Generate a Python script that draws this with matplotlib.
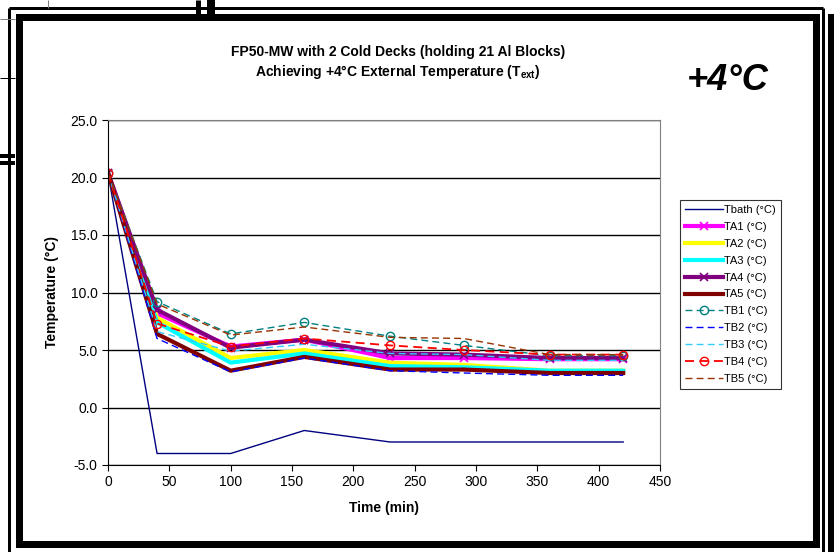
import matplotlib.pyplot as plt
from matplotlib.patches import Rectangle
from matplotlib.lines import Line2D
import numpy as np

plt.rcParams['font.family'] = ['Liberation Sans', 'DejaVu Sans']
plt.rcParams['mathtext.default'] = 'regular'

# data
t = [0, 40, 100, 160, 230, 290, 360, 420]
tbath = [20.4, -4.0, -4.0, -2.0, -3.0, -3.0, -3.0, -3.0]
ta1 = [20.4, 8.2, 5.3, 5.9, 4.3, 4.3, 4.2, 4.2]
ta2 = [20.4, 7.8, 4.3, 5.0, 3.9, 3.7, 3.2, 3.2]
ta3 = [20.4, 7.4, 3.9, 4.7, 3.6, 3.5, 3.2, 3.2]
ta4 = [20.4, 8.5, 5.2, 5.9, 4.7, 4.6, 4.3, 4.3]
ta5 = [20.4, 6.4, 3.2, 4.4, 3.3, 3.3, 3.0, 3.0]
tb1 = [20.4, 9.2, 6.4, 7.4, 6.2, 5.4, 4.5, 4.5]
tb2 = [20.4, 6.0, 3.1, 4.3, 3.2, 3.0, 2.8, 2.8]
tb3 = [20.4, 6.6, 4.9, 5.5, 4.7, 4.6, 4.1, 4.1]
tb4 = [20.4, 7.3, 5.3, 6.0, 5.4, 5.0, 4.6, 4.6]
tb5 = [20.4, 9.0, 6.3, 7.0, 6.1, 6.0, 4.6, 4.6]

xticks = np.arange(0, 451, 50)
yticks = np.arange(-5, 26, 5)

W, H = 838, 552
fig = plt.figure(figsize=(W/100, H/100), dpi=100)
ax = fig.add_axes([108/W, 1-465/H, 552/W, 345/H])

ax.plot(t, tbath, color='#000080', lw=1, label='Tbath (°C)')
ax.plot(t, ta1, color='#FF00FF', lw=3, marker='x', ms=6, mew=1.2, label='TA1 (°C)')
ax.plot(t, ta2, color='#FFFF00', lw=3, label='TA2 (°C)')
ax.plot(t, ta3, color='#00FFFF', lw=3, label='TA3 (°C)')
ax.plot(t, ta4, color='#800080', lw=3, marker='x', ms=6, mew=1.2, label='TA4 (°C)')
ax.plot(t, ta5, color='#800000', lw=3, label='TA5 (°C)')
ax.plot(t, tb1, color='#008080', lw=1, ls=(0, (5, 3)), marker='o', ms=6, mfc='none', mew=1, label='TB1 (°C)')
ax.plot(t, tb2, color='#0000FF', lw=1, ls=(0, (5, 3)), label='TB2 (°C)')
ax.plot(t, tb3, color='#33CCFF', lw=1, ls=(0, (5, 3)), label='TB3 (°C)')
ax.plot(t, tb4, color='#FF0000', lw=1.3, ls=(0, (5, 3)), marker='o', ms=6, mfc='none', mew=1, label='TB4 (°C)')
ax.plot(t, tb5, color='#993300', lw=1, ls=(0, (5, 3)), label='TB5 (°C)')

ax.set_xlim(0, 450)
ax.set_ylim(-5, 25)
ax.set_xticks(xticks)
ax.set_yticks(yticks)
ax.set_yticklabels(['%.1f' % v for v in yticks])
ax.tick_params(direction='out', length=4, labelsize=10, color='black')
ax.yaxis.grid(True, color='black', lw=1)
ax.set_axisbelow(True)
for s in ['top', 'right']:
    ax.spines[s].set_color('#808080')
ax.set_xlabel('Time (min)', fontweight='bold', fontsize=10, labelpad=8)
ax.set_ylabel('Temperature (°C)', fontweight='bold', fontsize=10, labelpad=8)

leg = ax.legend(loc='upper left', bbox_to_anchor=(680/W, 1-200/H), bbox_transform=fig.transFigure,
                fontsize=8, frameon=True, fancybox=False, edgecolor='black', borderpad=0.45,
                labelspacing=0.62, handlelength=3.4, handletextpad=0.1, borderaxespad=0)
leg.get_frame().set_linewidth(0.8)

fig.text(398/W, 1-52/H, 'FP50-MW with 2 Cold Decks (holding 21 Al Blocks)', ha='center', va='center',
         fontsize=10, fontweight='bold')
fig.text(398/W, 1-72/H, 'Achieving +4°C External Temperature (T$_{ext}$)', ha='center', va='center',
         fontsize=10, fontweight='bold')
fig.text(728/W, 1-81/H, '+4°C', ha='center', va='center', fontsize=26, fontweight='bold', fontstyle='italic')

# page frame around the chart
def px_line(x0, y0, x1, y1, lw, color='black'):
    fig.add_artist(Line2D([x0/W, x1/W], [1-y0/H, 1-y1/H], lw=lw*0.72, color=color, solid_capstyle='butt'))

fig.add_artist(Rectangle((18.5/W, 1-544/H), (816-18.5)/W, (544-16.5)/H, transform=fig.transFigure,
                         fill=False, lw=7*0.72, ec='black', joinstyle='miter'))
px_line(9, 8, 823, 8, 3)
px_line(9, 8, 9, 552, 3)
px_line(823, 8, 823, 552, 3)
px_line(831, 14, 831, 552, 6)
px_line(198, 0, 198, 17, 5)
px_line(211, 0, 211, 17, 8)
px_line(0, 19, 15, 19, 1, '#808080')
px_line(48, 0, 48, 8, 1, '#808080')
px_line(0, 78, 15, 78, 1)
px_line(0, 156, 15, 156, 4)
px_line(0, 163, 15, 163, 4)

fig.savefig('out.png', dpi=100)
